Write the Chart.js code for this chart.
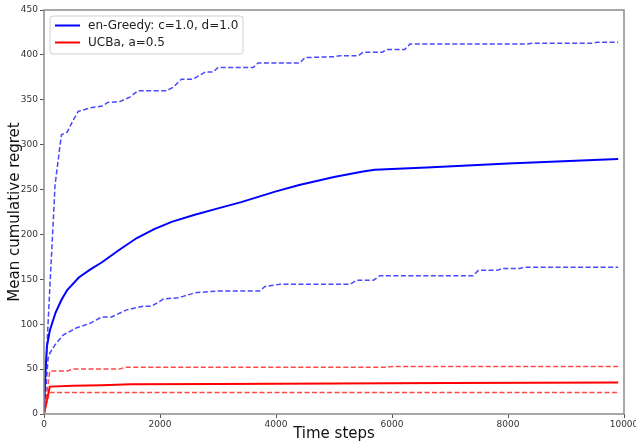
<!DOCTYPE html>
<html>
<head>
<meta charset="utf-8">
<script src="https://cdn.jsdelivr.net/npm/chart.js@4.4.1/dist/chart.umd.min.js"></script>
<style>
  html, body { margin: 0; padding: 0; background: #fff; }
  #wrap { width: 636px; height: 442px; }
</style>
</head>
<body>
<div id="wrap"><canvas id="myChart" width="636" height="442"></canvas></div>
<script>
// en-Greedy: mean and upper / lower band
const greedyMeanX = [0, 20, 50, 100, 200, 300, 400, 600, 800, 1000, 1300, 1600, 1900, 2200, 2600, 3000, 3400, 4000, 4400, 5000, 5500, 5700, 6600, 8000, 9900];
const greedyMeanY = [0, 40, 75, 93, 113, 127, 138, 152, 161, 169, 183, 196, 206, 214, 222, 229, 236, 248, 255, 264, 270, 272, 274.5, 279, 284];

const greedyHighX = [0, 50, 100, 160, 190, 300, 400, 500, 590, 800, 1000, 1100, 1310, 1480, 1620, 2110, 2230, 2370, 2570, 2780, 2920, 3000, 3610, 3690, 4410, 4500, 5000, 5100, 5420, 5500, 5830, 5910, 6220, 6310, 8330, 8410, 9450, 9530, 9900];
const greedyHighY = [0, 75, 140, 215, 255, 311, 314, 327, 337, 341, 343, 347, 348, 353, 360, 360, 364, 373, 373, 381, 381, 386, 386, 391, 391, 397, 398, 399, 399, 403, 403, 406, 406, 412, 412, 413, 413, 414, 414];

const greedyLowX = [0, 70, 103, 190, 330, 563, 793, 994, 1166, 1425, 1707, 1856, 2057, 2310, 2400, 2600, 2980, 3720, 3810, 4070, 5280, 5390, 5680, 5790, 7400, 7490, 7810, 7900, 8200, 8290, 9900];
const greedyLowY = [0, 62, 68, 77, 88, 96, 101, 108, 108, 116, 120, 120, 128, 129.5, 131, 135, 137, 137, 142, 144.5, 144.5, 149, 149, 154, 154, 160, 160, 162, 162, 163.5, 163.5];

// UCBa: mean and upper / lower band
const ucbMeanX = [0, 100, 500, 1000, 1500, 3000, 5000, 7000, 9900];
const ucbMeanY = [0, 30.5, 31.5, 32, 33, 33.5, 34, 34.5, 35];

const ucbHighX = [0, 100, 400, 500, 1300, 1400, 5900, 6000, 9900];
const ucbHighY = [0, 48, 48, 50, 50, 52, 52, 53, 53];

const ucbLowX = [0, 90, 9900];
const ucbLowY = [0, 24, 24];

const xTicks = [0, 2000, 4000, 6000, 8000, 10000];
const yTicks = [0, 50, 100, 150, 200, 250, 300, 350, 400, 450];

const labelGreedy = 'en-Greedy: c=1.0, d=1.0';
const labelUcb = 'UCBa, a=0.5';

function toPoints(xs, ys) {
  return xs.map((x, i) => ({ x: x, y: ys[i] }));
}

const blue = 'rgb(0, 0, 255)';
const blueBand = 'rgba(20, 20, 255, 0.78)';
const red = 'rgb(255, 0, 0)';
const redBand = 'rgba(255, 20, 20, 0.78)';

function lineSet(label, xs, ys, color, dashed, order) {
  return {
    label: label,
    data: toPoints(xs, ys),
    borderColor: color,
    backgroundColor: color,
    borderWidth: dashed ? 1.5 : 2,
    borderDash: dashed ? [5, 2.5] : [],
    pointRadius: 0,
    tension: 0,
    fill: false,
    order: order
  };
}

// frame round the plot + legend inside the plot, top left
const framePlugin = {
  id: 'frame',
  afterDraw(chart) {
    const ctx = chart.ctx;
    const a = chart.chartArea;
    ctx.save();
    ctx.strokeStyle = '#8c8c8c';
    ctx.lineWidth = 1.5;
    ctx.strokeRect(a.left, a.top, a.right - a.left, a.bottom - a.top);

    // legend box
    const bx = 50, by = 16, bw = 193, bh = 38, r = 3;
    ctx.fillStyle = 'rgba(255,255,255,0.85)';
    ctx.strokeStyle = '#d0d0d0';
    ctx.lineWidth = 1;
    ctx.beginPath();
    ctx.moveTo(bx + r, by);
    ctx.arcTo(bx + bw, by, bx + bw, by + bh, r);
    ctx.arcTo(bx + bw, by + bh, bx, by + bh, r);
    ctx.arcTo(bx, by + bh, bx, by, r);
    ctx.arcTo(bx, by, bx + bw, by, r);
    ctx.closePath();
    ctx.fill();
    ctx.stroke();

    const entries = [
      { label: labelGreedy, color: blue, y: 25.5 },
      { label: labelUcb, color: red, y: 42.5 }
    ];
    ctx.font = '12px "DejaVu Sans"';
    ctx.textBaseline = 'middle';
    entries.forEach(e => {
      ctx.strokeStyle = e.color;
      ctx.lineWidth = 2;
      ctx.beginPath();
      ctx.moveTo(55, e.y);
      ctx.lineTo(80, e.y);
      ctx.stroke();
      ctx.fillStyle = '#222';
      ctx.fillText(e.label, 88, e.y);
    });
    ctx.restore();
  }
};

const ctx = document.getElementById('myChart').getContext('2d');

new Chart(ctx, {
  type: 'line',
  data: {
    datasets: [
      lineSet(labelGreedy, greedyMeanX, greedyMeanY, blue, false, 6),
      lineSet(labelGreedy + ' high', greedyHighX, greedyHighY, blueBand, true, 5),
      lineSet(labelGreedy + ' low', greedyLowX, greedyLowY, blueBand, true, 4),
      lineSet(labelUcb, ucbMeanX, ucbMeanY, red, false, 3),
      lineSet(labelUcb + ' high', ucbHighX, ucbHighY, redBand, true, 2),
      lineSet(labelUcb + ' low', ucbLowX, ucbLowY, redBand, true, 1)
    ]
  },
  options: {
    responsive: false,
    animation: false,
    layout: { padding: { top: 10, right: 12, left: 0, bottom: 0 } },
    plugins: {
      legend: { display: false },
      tooltip: { enabled: false }
    },
    scales: {
      x: {
        type: 'linear',
        min: 0,
        max: 10000,
        afterBuildTicks: s => { s.ticks = xTicks.map(v => ({ value: v })); },
        afterFit: s => { s.height = 28; s.paddingLeft = 0; s.paddingRight = 0; },
        grid: { drawOnChartArea: false, color: '#555', tickLength: 4 },
        border: { display: false },
        ticks: {
          color: '#333',
          font: { family: 'DejaVu Sans', size: 9 },
          padding: 1,
          maxRotation: 0,
          callback: v => String(v)
        },
        title: {
          display: true,
          text: 'Time steps',
          color: '#111',
          font: { family: 'DejaVu Sans', size: 15, lineHeight: 1 },
          padding: { top: 0, bottom: 0 }
        }
      },
      y: {
        min: 0,
        max: 450,
        afterBuildTicks: s => { s.ticks = yTicks.map(v => ({ value: v })); },
        afterFit: s => { s.width = 44; s.paddingTop = 0; s.paddingBottom = 0; },
        grid: { drawOnChartArea: false, color: '#555', tickLength: 4 },
        border: { display: false },
        ticks: {
          color: '#333',
          font: { family: 'DejaVu Sans', size: 9 },
          padding: 2,
          callback: v => String(v)
        },
        title: {
          display: true,
          text: 'Mean cumulative regret',
          color: '#111',
          font: { family: 'DejaVu Sans', size: 15 },
          padding: { top: 6, bottom: 0 }
        }
      }
    }
  },
  plugins: [framePlugin]
});
</script>
</body>
</html>
